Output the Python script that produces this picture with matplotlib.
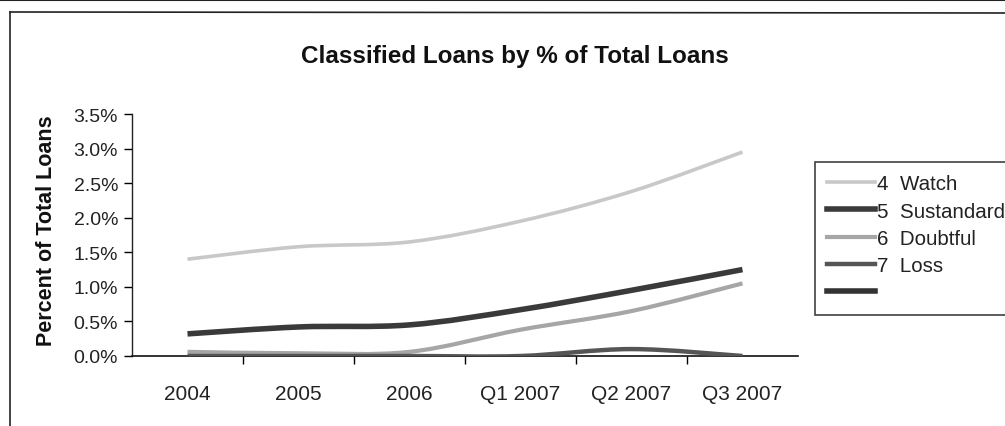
import matplotlib
matplotlib.use("Agg")
import matplotlib.pyplot as plt
import numpy as np
from matplotlib.path import Path
from matplotlib.patches import PathPatch
from matplotlib.lines import Line2D

plt.rcParams['font.family'] = ['Liberation Sans', 'DejaVu Sans']

categories = ["2004", "2005", "2006", "Q1 2007", "Q2 2007", "Q3 2007"]
watch = [1.40, 1.58, 1.65, 1.95, 2.38, 2.95]
substandard = [0.32, 0.42, 0.45, 0.67, 0.95, 1.25]
doubtful = [0.06, 0.04, 0.06, 0.38, 0.65, 1.05]
loss = [0.0, 0.0, 0.0, 0.0, 0.10, 0.0]
series_names = ["4  Watch", "5  Sustandard", "6  Doubtful", "7  Loss", ""]
series_colors = ["#c8c8c8", "#3a3a3a", "#a6a6a6", "#555555", "#333333"]
series_widths = [2.6, 4.0, 3.0, 3.2, 4.0]
yticks = [0.0, 0.5, 1.0, 1.5, 2.0, 2.5, 3.0, 3.5]

W, H = 1005, 427
fig = plt.figure(figsize=(W / 100, H / 100), dpi=100)
ax = fig.add_axes([132 / W, (H - 357) / H, (798 - 132) / W, (357 - 115) / H])


def smooth_path(xs, ys, t=1 / 6):
    """Excel-style smoothed line: cubic Bezier segments through the data points."""
    pts = np.column_stack([xs, ys]).astype(float)
    verts = [pts[0]]
    codes = [Path.MOVETO]
    n = len(pts)
    for i in range(n - 1):
        p0 = pts[i - 1] if i > 0 else pts[i]
        p1 = pts[i]
        p2 = pts[i + 1]
        p3 = pts[i + 2] if i + 2 < n else pts[i + 1]
        c1 = p1 + (p2 - p0) * t
        c2 = p2 - (p3 - p1) * t
        verts += [c1, c2, p2]
        codes += [Path.CURVE4] * 3
    return Path(verts, codes)


x = np.arange(len(categories))
data = [watch, substandard, doubtful, loss]
for vals, col, lw in zip(data, series_colors, series_widths):
    patch = PathPatch(smooth_path(x, vals), facecolor="none", edgecolor=col,
                      linewidth=lw, capstyle="butt", zorder=3)
    ax.add_patch(patch)

ax.set_xlim(-0.5, len(categories) - 0.5)
ax.set_ylim(0, 3.5)
ax.set_yticks(yticks)
ax.set_yticklabels([f"{v:.1f}%" for v in yticks], fontsize=14, color="#222222")
ax.set_xticks(x)
ax.set_xticklabels(categories, fontsize=15, color="#222222")
ax.tick_params(axis="x", length=0, pad=20)
ax.set_xticks(np.arange(0.5, len(categories) - 0.5, 1.0), minor=True)
ax.tick_params(axis="x", which="minor", length=6, direction="out", width=1)
ax.tick_params(axis="y", length=6, direction="out", width=1, pad=4)
for s in ["top", "right"]:
    ax.spines[s].set_visible(False)
ax.spines["left"].set_linewidth(1.0)
ax.spines["bottom"].set_linewidth(1.2)
ax.spines["bottom"].set_color("#111111")
ax.spines["left"].set_color("#222222")

fig.text(47 / W, 1 - 231 / H, "Percent of Total Loans", rotation=90,
         ha="center", va="center", fontsize=15.5, fontweight="bold", color="#111111")
fig.text(515 / W, 1 - 57 / H, "Classified Loans by % of Total Loans",
         ha="center", va="center", fontsize=17.5, fontweight="bold", color="#111111")

handles = [Line2D([], [], color=c, lw=w) for c, w in zip(series_colors, series_widths)]
leg = fig.legend(handles, series_names, loc="upper left",
                 bbox_to_anchor=(815 / W, 1 - 163 / H), fontsize=14.8,
                 frameon=True, fancybox=False, edgecolor="#111111",
                 handlelength=2.3, handletextpad=0.1, labelspacing=0.4,
                 borderpad=0.6, borderaxespad=0)
leg.get_frame().set_linewidth(1.2)
for t in leg.get_texts():
    t.set_color("#222222")

# outer chart border
fig.add_artist(Line2D([10 / W, 10 / W], [0, 1 - 13 / H], transform=fig.transFigure,
                      color="#222222", lw=1.2))
fig.add_artist(Line2D([10 / W, 1], [1 - 13 / H, 1 - 14 / H], transform=fig.transFigure,
                      color="#222222", lw=1.2))
fig.add_artist(Line2D([0, 1], [1 - 1 / H, 1 - 1 / H], transform=fig.transFigure,
                      color="#222222", lw=1.5))

fig.savefig("out.png", dpi=100)
